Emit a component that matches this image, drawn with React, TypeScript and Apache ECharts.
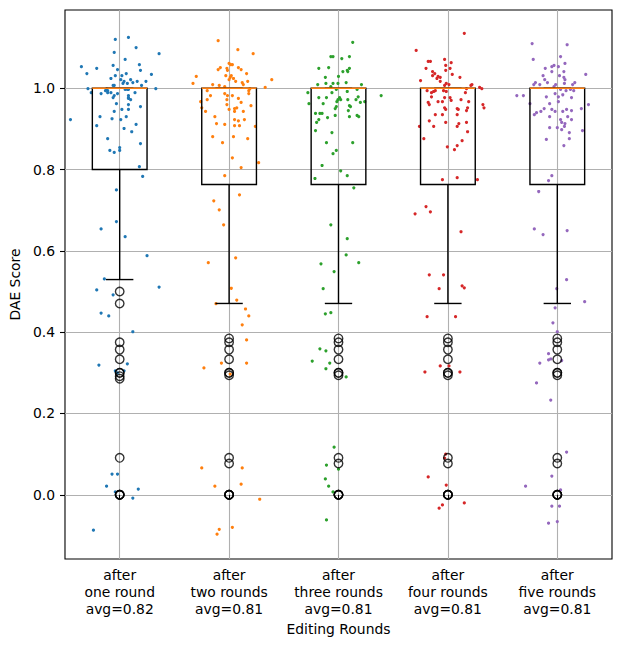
import React, { useEffect, useRef } from "react";
import * as echarts from "echarts";

const categories = [
  "after\none round\navg=0.82",
  "after\ntwo rounds\navg=0.81",
  "after\nthree rounds\navg=0.81",
  "after\nfour rounds\navg=0.81",
  "after\nfive rounds\navg=0.81",
];
const positions = [1, 2, 3, 4, 5];
const colors = ["#1f77b4", "#ff7f0e", "#2ca02c", "#d62728", "#9467bd"];

// [lowerWhisker, Q1, median, Q3, upperWhisker]
const boxStats: number[][] = [
  [0.5294, 0.8, 1.0, 1.0, 1.0],
  [0.4706, 0.7632, 1.0, 1.0, 1.0],
  [0.4706, 0.7632, 1.0, 1.0, 1.0],
  [0.4706, 0.7632, 1.0, 1.0, 1.0],
  [0.4706, 0.7632, 1.0, 1.0, 1.0],
];

const outliersOne = [0.5, 0.4706, 0.375, 0.3571, 0.3333, 0.3, 0.3, 0.2917, 0.2857, 0.0909, 0, 0, 0, 0];
const outliersOther = [0.3846, 0.375, 0.3571, 0.3333, 0.3, 0.3, 0.2941, 0.0909, 0.0769, 0, 0, 0, 0];
const outliers = [outliersOne, outliersOther, outliersOther, outliersOther, outliersOther];

// jittered points: [x offset from category, score]
const pointsOne: number[][] = [
  [-0.04,1.12],[0.08,1.125],[0.15,1.1],[-0.05,1.088],[0.36,1.085],[0.05,1.071],[-0.35,1.053],[-0.21,1.049],[-0.06,1.056],[0.18,1.058],[-0.02,1.046],[0.19,1.044],[-0.3,1.036],[-0.04,1.031],[0.02,1.031],[0.06,1.036],[0.29,1.034],[-0.08,1.024],[0.1,1.021],[0.01,1.021],[0.04,1.017],[0.12,1.014],[0.16,1.017],[0.24,1.017],[0.07,1.012],[0.03,1.012],[-0.06,1.007],[-0.05,1.007],[0.2,1.007],[-0.29,0.999],[-0.12,0.999],[0.33,0.999],[0.05,0.997],[0.07,0.997],[0.08,0.997],[-0.26,0.989],[-0.17,0.987],[-0.11,0.994],[-0.11,0.989],[-0.08,0.989],[-0.13,0.994],[-0.02,0.987],[-0.05,0.982],[-0.06,0.977],[0.08,0.982],[0.14,0.989],[0.08,0.975],[0.1,0.972],[0.08,0.977],[-0.03,0.962],[0.08,0.96],[0.19,0.955],[0.02,0.948],[0.08,0.948],[-0.05,0.943],[-0.18,0.93],[-0.07,0.925],[0.01,0.923],[0.06,0.93],[-0.45,0.923],[-0.21,0.908],[0.15,0.911],[0.04,0.901],[0.11,0.893],[-0.11,0.876],[0.19,0.864],[0,0.854],[-0.09,0.847],[-0.05,0.842],[0,0.847],[0.18,0.807],[0.21,0.783],[-0.03,0.75],[-0.03,0.672],[-0.17,0.654],[0.05,0.635],[0.25,0.588],[-0.14,0.531],
  [-0.21,0.504],[0.36,0.511],[-0.06,0.492],[-0.17,0.447],[-0.1,0.44],[0.12,0.401],[-0.19,0.319],[0.07,0.322],[-0.04,0.305],[0.04,0.305],[-0.02,0.3],[-0.07,0.051],[-0.02,0.051],[-0.12,0.021],[0.17,0.014],[-0.04,0.007],[0.12,-0.008],[-0.24,-0.087],
];
const pointsTwo: number[][] = [
  [-0.1,1.117],[0.08,1.095],[0.22,1.085],[0,1.061],[0.03,1.058],[0.015,1.058],[0.085,1.051],[0.11,1.046],[-0.08,1.051],[-0.1,1.046],[-0.02,1.049],[-0.015,1.044],[0.16,1.036],[-0.3,1.029],[-0.03,1.031],[0.02,1.031],[0.01,1.027],[0.04,1.024],[0.06,1.017],[0,1.021],[0.17,1.017],[0.12,1.014],[0.39,1.021],[-0.33,1.012],[-0.15,1.009],[-0.09,1.007],[-0.04,1.004],[0.13,1.009],[0.33,1.002],[0.19,0.999],[-0.2,0.994],[0.18,0.994],[0.18,0.987],[-0.17,0.982],[-0.04,0.987],[0.03,0.982],[-0.015,0.982],[-0.02,0.972],[0.085,0.975],[-0.2,0.972],[-0.26,0.967],[0.11,0.965],[-0.02,0.96],[0.2,0.957],[-0.25,0.952],[0.07,0.952],[0.05,0.95],[0,0.948],[0.05,0.943],[-0.215,0.943],[0.13,0.943],[-0.13,0.93],[0.05,0.923],[0.085,0.92],[0.14,0.923],[-0.115,0.913],[-0.04,0.911],[0.05,0.908],[0.095,0.908],[0.24,0.906],[-0.15,0.881],[0.04,0.881],[0.17,0.876],[-0.06,0.866],[0.03,0.829],[0.27,0.817],[0.11,0.805],[-0.04,0.785],[0.095,0.738],[-0.14,0.723],[-0.09,0.701],[-0.05,0.664],[0.06,0.583],[-0.19,0.571],[0.02,0.508],
  [0.07,0.479],[-0.12,0.47],[0.15,0.457],[0.18,0.44],[0.12,0.418],[0.16,0.381],[-0.07,0.324],[0.16,0.324],[-0.23,0.312],[0.01,0.297],[-0.25,0.066],[0.12,0.066],[0.11,0.026],[-0.13,0.021],[0.28,-0.011],[0.03,-0.08],[-0.09,-0.085],[-0.11,-0.097],
];
const pointsThree: number[][] = [
  [0.13,1.113],[-0.07,1.078],[-0.05,1.078],[0.1,1.078],[0.03,1.073],[-0.18,1.049],[-0.09,1.051],[0.1,1.049],[0.04,1.041],[0.08,1.044],[0.085,1.041],[0,1.029],[-0.12,1.027],[-0.115,1.012],[-0.05,1.012],[-0.005,1.012],[0.07,1.014],[-0.19,1.009],[0.21,1.009],[-0.07,1.004],[-0.02,0.997],[0.17,0.997],[-0.28,0.989],[-0.06,0.989],[0.08,0.992],[0.39,0.982],[-0.18,0.977],[-0.11,0.977],[0.01,0.977],[-0.005,0.972],[0.02,0.972],[0.18,0.979],[0.085,0.972],[0.16,0.972],[-0.015,0.967],[0.24,0.967],[-0.27,0.962],[-0.14,0.962],[0.2,0.965],[0.1,0.957],[0.11,0.955],[-0.02,0.955],[-0.03,0.95],[0.09,0.945],[-0.21,0.938],[-0.17,0.938],[-0.15,0.938],[-0.03,0.933],[0.17,0.933],[0.185,0.93],[0.1,0.93],[-0.1,0.928],[-0.18,0.923],[-0.2,0.916],[-0.21,0.896],[-0.06,0.891],[-0.11,0.866],[0.13,0.866],[-0.02,0.847],[-0.05,0.839],[-0.15,0.81],[0.02,0.797],[0.08,0.785],[-0.215,0.778],[0.14,0.755],[-0.07,0.664],[0.08,0.63],[0.07,0.59],[-0.16,0.568],[0.185,0.571],[-0.04,0.549],[-0.14,0.507],
  [-0.12,0.445],[-0.07,0.448],[-0.17,0.359],[-0.115,0.354],[-0.24,0.329],[-0.08,0.324],[-0.115,0.31],[0.07,0.29],[-0.04,0.117],[-0.11,0.073],[0,0.063],[-0.12,0.039],[-0.09,0.021],[-0.05,0.007],[-0.11,-0.062],
];
const pointsFour: number[][] = [
  [0.15,1.135],[-0.29,1.093],[-0.18,1.066],[-0.16,1.066],[-0.03,1.071],[0.03,1.063],[-0.02,1.056],[-0.2,1.049],[0.02,1.049],[-0.14,1.041],[-0.12,1.036],[-0.02,1.044],[0.04,1.034],[-0.14,1.031],[-0.09,1.029],[-0.07,1.027],[-0.1,1.024],[0.11,1.027],[-0.25,1.019],[-0.07,1.017],[-0.015,1.012],[0.01,1.009],[-0.03,1.007],[0.21,1.007],[0.22,1.009],[0.17,0.999],[0.31,0.999],[0.29,1.002],[-0.19,0.994],[-0.15,0.989],[-0.13,0.992],[-0.115,0.994],[-0.04,0.994],[-0.015,0.992],[0.16,0.989],[-0.15,0.979],[-0.03,0.977],[0.02,0.977],[0.03,0.97],[0.12,0.972],[0.19,0.967],[-0.18,0.965],[-0.17,0.96],[-0.09,0.967],[-0.05,0.967],[0.32,0.96],[-0.03,0.952],[-0.02,0.948],[0.085,0.95],[0.095,0.948],[0.18,0.952],[0.33,0.952],[0.17,0.945],[-0.115,0.935],[-0.05,0.935],[0.085,0.935],[-0.17,0.92],[-0.02,0.916],[0.1,0.913],[0.17,0.916],[-0.26,0.906],[-0.13,0.906],[0.085,0.906],[0.18,0.893],[-0.22,0.876],[0.13,0.871],[-0.005,0.856],[0.085,0.859],[0.06,0.849],[0.085,0.78],[-0.05,0.775],[0.27,0.775],[-0.2,0.709],[-0.16,0.696],[-0.3,0.691],[0.12,0.647],[-0.17,0.541],[-0.04,0.541],[0.13,0.514],[0.15,0.509],[-0.08,0.507],
  [-0.19,0.438],[0.07,0.438],[-0.07,0.317],[0.01,0.317],[-0.21,0.302],[0.11,0.302],[-0.02,0.1],[-0.03,0.09],[-0.18,0.044],[-0.015,0.024],[0.15,-0.02],[-0.05,-0.025],[-0.08,-0.033],
];
const pointsFive: number[][] = [
  [-0.23,1.11],[0.09,1.107],[0.03,1.078],[-0.22,1.071],[0.07,1.061],[-0.03,1.056],[-0.05,1.053],[0.01,1.053],[-0.11,1.049],[-0.05,1.041],[0.06,1.041],[0.26,1.034],[-0.13,1.031],[0.02,1.031],[0.06,1.027],[-0.115,1.021],[0.07,1.021],[-0.09,1.014],[-0.2,1.014],[0.16,1.014],[0.065,1.012],[-0.215,1.009],[-0.16,1.009],[-0.015,1.009],[0.14,1.009],[-0.03,1.004],[0.03,0.997],[0.08,0.994],[0.12,0.997],[0.15,0.994],[-0.02,0.987],[0.05,0.984],[-0.37,0.982],[-0.31,0.982],[-0.1,0.979],[0.01,0.979],[0.13,0.977],[0.01,0.967],[-0.07,0.962],[-0.25,0.962],[0.285,0.96],[-0.12,0.95],[-0.05,0.948],[0.085,0.948],[0.22,0.95],[-0.02,0.943],[0.05,0.943],[0.13,0.945],[-0.15,0.943],[-0.19,0.94],[-0.21,0.935],[-0.07,0.93],[0.095,0.93],[0.03,0.923],[0.13,0.923],[0.04,0.916],[0.07,0.913],[0.065,0.906],[-0.07,0.903],[0,0.903],[0.04,0.898],[0.23,0.896],[0.11,0.891],[-0.1,0.874],[0.11,0.876],[0.06,0.859],[-0.05,0.785],[-0.08,0.773],[-0.17,0.746],[-0.21,0.654],[0.09,0.65],[-0.13,0.64],[0.085,0.529],[-0.005,0.507],
  [0.25,0.475],[-0.02,0.46],[-0.04,0.423],[0,0.401],[-0.08,0.347],[-0.16,0.324],[-0.08,0.332],[-0.06,0.334],[0.04,0.33],[-0.19,0.275],[-0.06,0.233],[0.085,0.105],[-0.05,0.046],[-0.29,0.021],[0.03,0.012],[-0.05,-0.028],[0.02,-0.028],[-0.08,-0.07],[0,-0.066],
];
const pointGroups = [pointsOne, pointsTwo, pointsThree, pointsFour, pointsFive];

const yTicks = [0, 0.2, 0.4, 0.6, 0.8, 1.0];
const FONT = "DejaVu Sans";

export default function App() {
  const ref = useRef<HTMLDivElement>(null);
  useEffect(() => {
    if (!ref.current) return;
    const chart = echarts.init(ref.current, undefined, { renderer: "svg" });

    const boxData = positions.map((p, i) => [p, ...boxStats[i]]);
    const outlierData: number[][] = [];
    outliers.forEach((arr, i) => arr.forEach((v) => outlierData.push([positions[i], v])));

    const lineStyle = { stroke: "#000", lineWidth: 1.4 };

    const option: any = {
      animation: false,
      backgroundColor: "#fff",
      grid: {
        left: 62,
        right: 9,
        top: 10,
        bottom: 86,
        show: true,
        borderColor: "#000",
        borderWidth: 1.1,
        backgroundColor: "transparent",
      },
      xAxis: {
        type: "value",
        min: 0.5,
        max: 5.5,
        name: "Editing Rounds",
        nameLocation: "middle",
        nameGap: 62,
        nameTextStyle: { fontFamily: FONT, fontSize: 13.9, color: "#000" },
        axisLine: { show: false },
        axisTick: {
          show: true,
          length: 5,
          lineStyle: { color: "#000", width: 1.1 },
          customValues: positions,
        },
        axisLabel: {
          customValues: positions,
          formatter: (v: number) => categories[Math.round(v) - 1] ?? "",
          fontFamily: FONT,
          fontSize: 13.9,
          lineHeight: 16.7,
          color: "#000",
          margin: 8,
        },
        splitLine: { show: true, lineStyle: { color: "#b0b0b0", width: 1.1 } },
      },
      yAxis: {
        type: "value",
        min: -0.158,
        max: 1.1925,
        splitNumber: 7,
        name: "DAE Score",
        nameLocation: "middle",
        nameRotate: 90,
        nameGap: 40,
        nameTextStyle: { fontFamily: FONT, fontSize: 13.9, color: "#000" },
        axisLine: { show: false },
        axisTick: {
          show: true,
          length: 5,
          lineStyle: { color: "#000", width: 1.1 },
          customValues: yTicks,
        },
        axisLabel: {
          customValues: yTicks,
          formatter: (v: number) => v.toFixed(1),
          fontFamily: FONT,
          fontSize: 13.9,
          color: "#000",
          margin: 10,
        },
        splitLine: { show: true, lineStyle: { color: "#b0b0b0", width: 1.1 } },
      },
      series: [
        ...pointGroups.map((pts, i) => ({
          type: "scatter",
          z: 2,
          symbol: "circle",
          symbolSize: 3.2,
          itemStyle: { color: colors[i], opacity: 1 },
          silent: true,
          data: pts.map(([dx, y]) => [positions[i] + dx, y]),
        })),
        {
          type: "custom",
          z: 3,
          silent: true,
          encode: { x: 0, y: [1, 2, 3, 4, 5] },
          data: boxData,
          renderItem: (_params: any, api: any) => {
            const pos = api.value(0);
            const lo = api.value(1);
            const q1 = api.value(2);
            const med = api.value(3);
            const q3 = api.value(4);
            const hi = api.value(5);
            const half = 0.25;
            const capHalf = 0.125;
            const c = (x: number, y: number) => api.coord([x, y]);
            const tl = c(pos - half, q3);
            const br = c(pos + half, q1);
            const mk = (x1: number, y1: number, x2: number, y2: number, style: any) => {
              const a = c(x1, y1);
              const b = c(x2, y2);
              return { type: "line", shape: { x1: a[0], y1: a[1], x2: b[0], y2: b[1] }, style };
            };
            return {
              type: "group",
              children: [
                mk(pos, q1, pos, lo, lineStyle),
                mk(pos, q3, pos, hi, lineStyle),
                mk(pos - capHalf, lo, pos + capHalf, lo, lineStyle),
                mk(pos - capHalf, hi, pos + capHalf, hi, lineStyle),
                {
                  type: "rect",
                  shape: { x: tl[0], y: tl[1], width: br[0] - tl[0], height: br[1] - tl[1] },
                  style: { stroke: "#000", fill: "none", lineWidth: 1.4 },
                },
                mk(pos - half, med, pos + half, med, { stroke: "#ff7f0e", lineWidth: 1.6 }),
              ],
            };
          },
        },
        {
          type: "scatter",
          z: 4,
          silent: true,
          symbol: "circle",
          symbolSize: 8.5,
          itemStyle: { color: "rgba(0,0,0,0)", borderColor: "#000", borderWidth: 1.4 },
          data: outlierData,
        },
      ],
    };
    chart.setOption(option);
    return () => chart.dispose();
  }, []);
  return (
    <div
      ref={ref}
      style={{ position: "fixed", left: 0, top: 0, width: 621, height: 645, background: "#fff" }}
    />
  );
}
